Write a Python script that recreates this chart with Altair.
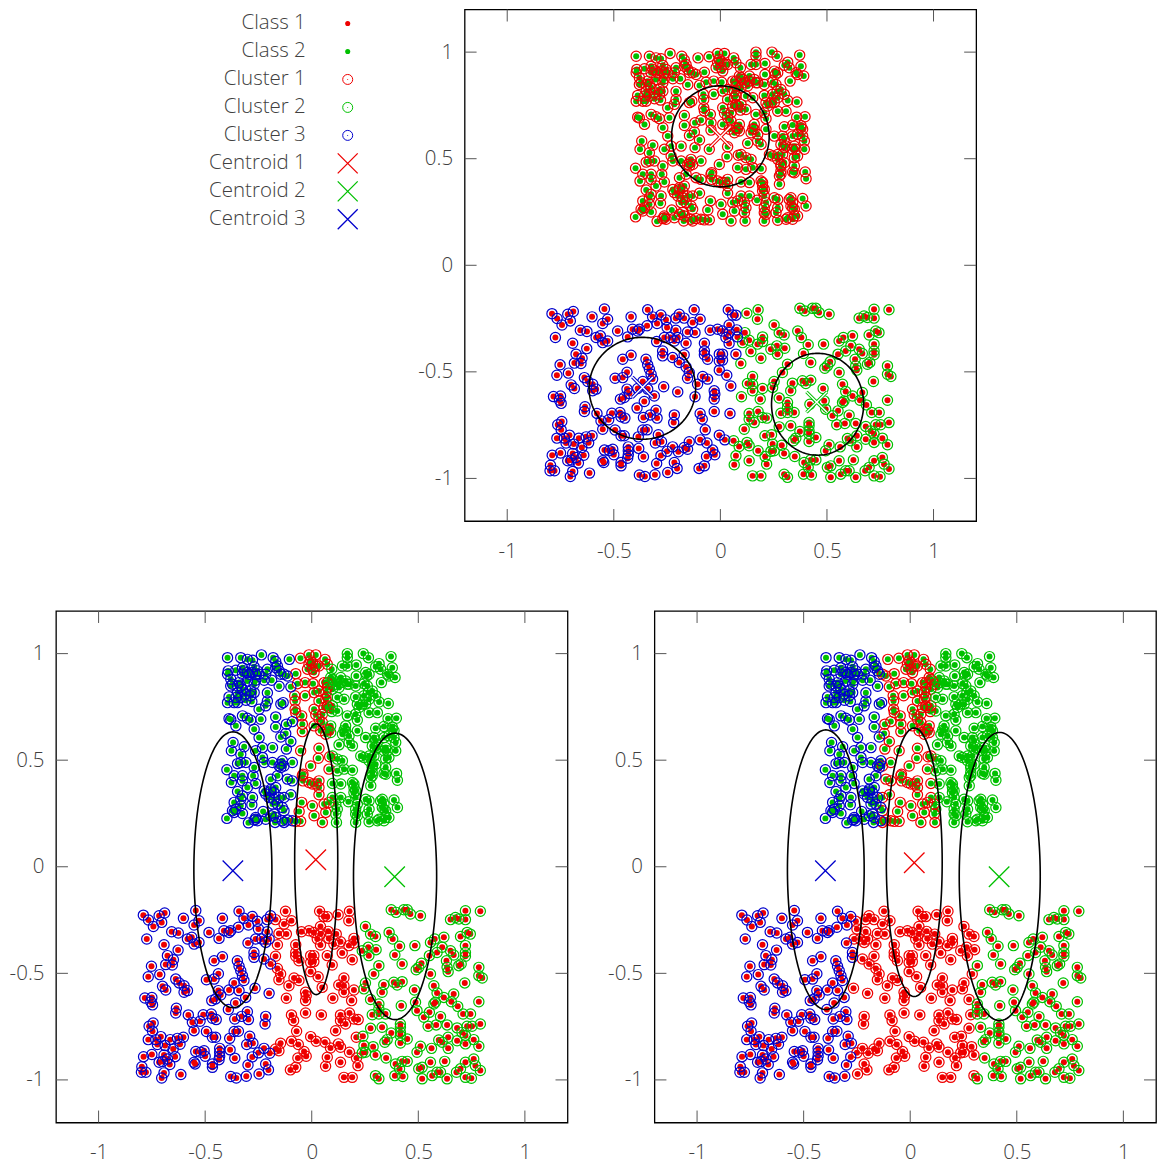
import math
import altair as alt
import pandas as pd

alt.data_transformers.disable_max_rows()

upper_x = [
 -.395,-.333,-.302,-.278,-.236,-.181,-.169,-.105,-.053,-.013,.019,.0625,.167,.167,.242,.266,.372,
 -.392,-.395,-.356,-.325,-.325,-.302,-.270,-.255,-.263,-.208,-.216,-.161,-.153,-.130,-.114,-.075,-.013,.003,.003,.034,.073,.094,.144,.167,.209,.209,.253,.269,.300,.316,.323,.378,.355,.391,.362,
 -.380,-.380,-.341,-.333,-.325,-.302,-.263,-.223,-.188,-.153,-.098,-.067,-.031,.006,.058,.089,.105,.113,.136,.175,.206,.245,.258,.327,.073,
 -.388,-.395,-.356,-.348,-.309,-.286,-.281,-.270,-.208,-.208,-.216,-.145,-.134,-.078,-.080,-.031,.011,.034,.073,.066,.097,.120,.206,.214,.238,.266,.269,.253,.316,.359,.300,
 -.247,-.388,-.380,-.356,-.325,-.302,-.286,-.270,-.239,-.169,-.169,-.091,-.119,-.078,-.075,-.047,.011,.019,.034,.050,.094,.081,.120,.167,.206,.214,.269,.308,.358,.397,.300,.339,.378,.386,.159,.089,-.044,.011,
 .152,.175,.214,.081,.066,.042,-.044,-.122,-.145,-.247,-.369,-.377,-.317,-.263,-.231,-.184,-.098,-.119,-.052,.034,.128,.175,.191,.253,.292,.284,.300,.339,.386,.355,.394,.394,.245,.269,
 -.333,-.333,-.348,-.309,-.270,-.231,-.223,-.184,-.145,-.130,-.091,-.005,.031,.084,.097,.120,.081,.120,.152,.191,.144,.347,.347,.339,.284,.284,.300,-.398,-.145,
 -.364,-.377,-.325,-.325,-.275,-.263,-.302,-.192,-.161,-.114,-.091,-.041,-.041,.003,.034,.097,.136,.191,.198,.277,.284,.347,.398,.402,
 -.348,-.333,-.364,-.278,-.281,-.223,-.192,-.177,-.200,-.177,-.153,-.130,-.098,.034,.097,.136,.198,.206,-.047,.003,.058,.081,.172,.253,.269,.331,.339,.386,.402,.269,
 -.364,-.325,-.398,-.297,-.263,-.228,-.216,-.177,-.172,-.130,-.138,-.091,-.052,-.059,.011,.050,.066,.113,.116,.206,.214,.206,.269,.261,.308,.347,.362,.339,
]
upper_y = [
 .981,.981,.973,.969,.994,.981,.963,.973,.978,.994,.994,.973,1.0,.981,1.0,.981,.986,
 .919,.903,.922,.934,.903,.911,.938,.919,.903,.927,.903,.942,.919,.903,.895,.906,.95,.958,.927,.942,.95,.927,.942,.942,.947,.895,.911,.903,.938,.953,.927,.934,.903,.888,.895,
 .880,.848,.864,.848,.833,.872,.875,.875,.875,.847,.844,.859,.864,.859,.864,.888,.872,.856,.864,.856,.848,.859,.895,.864,.841,
 .797,.770,.794,.770,.781,.802,.775,.817,.816,.778,.755,.763,.770,.778,.802,.802,.817,.825,.797,.817,.755,.794,.797,.763,.763,.817,.786,.763,.773,.766,.802,
 .739,.695,.691,.661,.708,.697,.688,.645,.692,.703,.656,.681,.669,.739,.723,.708,.739,.713,.692,.677,.728,.747,.731,.708,.716,.688,.723,.723,.695,.697,.650,.658,.656,.638,.661,.661,.669,.661,
 .641,.614,.638,.641,.622,.638,.634,.625,.609,.606,.583,.544,.563,.544,.559,.559,.588,.552,.544,.556,.572,.583,.567,.606,.606,.567,.552,.606,.606,.544,.544,.583,.513,.520,
 .528,.489,.484,.489,.466,.513,.489,.489,.481,.473,.489,.473,.509,.516,.520,.505,.458,.450,.458,.453,.497,.505,.466,.438,.473,.442,.481,.455,.466,
 .427,.395,.427,.403,.427,.391,.372,.411,.427,.411,.403,.434,.403,.388,.403,.391,.388,.395,.372,.380,.427,.434,.438,.406,
 .353,.317,.302,.325,.291,.356,.356,.348,.325,.317,.325,.325,.338,.338,.325,.325,.348,.325,.302,.286,.294,.302,.305,.317,.309,.317,.294,.313,.278,.270,
 .255,.250,.227,.206,.223,.259,.223,.247,.208,.263,.216,.216,.213,.259,.239,.208,.255,.247,.208,.270,.239,.208,.211,.247,.216,.231,.231,.270,
]
upper_extra = [
 (-.005,.966),(.019,.942),(.011,.911),(-.020,.927),(-.247,.903),(-.278,.911),(-.348,.848),(-.364,.770),(-.333,.794),(-.372,.856),(-.309,.809),(-.348,.817),(-.145,.903),(-.169,.934),(.097,.880),(.073,.864),(.128,.841),(.152,.786),(.034,.778),(.058,.747),(.066,.786),(.222,.747),(.245,.802),(.284,.825),(.261,.848),
 (.159,.638),(.144,.622),(.073,.645),(.089,.630),(-.153,.473),(-.138,.497),(.300,.591),(.308,.559),(.339,.544),(.362,.513),(.347,.559),(.378,.645),(.362,.614),(.284,.466),(.277,.419),(.198,.388),(.206,.356),(.214,.294),(.206,.247),(-.192,.364),(-.169,.372),(-.216,.341),(-.184,.294),(-.161,.294),(-.138,.278),
 (-.263,.231),(-.255,.216),(-.270,.219),(-.192,.239),(-.169,.231),(.113,.294),(.120,.270),(.034,.372),(.019,.388),(-.013,.395),(-.130,.208),(-.114,.219),(-.075,.213),(.323,.309),(.331,.278),(.347,.263),(.339,.216),(.316,.223),(-.356,.270),(-.372,.263),(-.333,.286),(-.325,.333),
 (-.294,.903),(-.317,.919),(-.270,.856),(-.286,.825),(.167,.856),(.136,.888),(.159,.872),(.097,.833),(.073,.755),(.050,.716),(-.044,.427),(.269,.497),(.230,.520),(.292,.520),
]
lower_left = [
 (-.790,-.227),(-.766,-.250),(-.743,-.280),(-.716,-.230),(-.704,-.261),(-.690,-.217),(-.602,-.242),(-.544,-.205),(-.529,-.253),(-.552,-.273),(-.419,-.242),(-.341,-.209),(-.318,-.242),(-.279,-.233),(-.297,-.273),(-.255,-.256),(-.250,-.292),(-.344,-.284),(-.209,-.248),(-.193,-.230),(-.170,-.248),(-.123,-.209),(-.130,-.269),(-.095,-.253),(-.119,-.316),(-.048,-.305),(-.013,-.300),
 (-.657,-.305),(-.626,-.311),(-.774,-.339),(-.693,-.366),(-.583,-.339),(-.563,-.331),(-.552,-.363),(-.529,-.355),(-.482,-.308),(-.435,-.336),(-.412,-.300),(-.380,-.300),(-.388,-.308),(-.263,-.339),(-.235,-.339),(-.209,-.305),(-.200,-.339),(-.216,-.355),(-.161,-.366),(-.299,-.358),(-.154,-.313),(-.075,-.366),
 (-.627,-.391),(-.677,-.417),(-.649,-.436),(-.654,-.461),(-.685,-.459),(-.458,-.441),(-.419,-.422),(-.349,-.441),(-.341,-.467),(-.271,-.402),(-.271,-.425),(-.224,-.433),(-.193,-.456),(-.170,-.420),(-.075,-.402),(-.075,-.420),(-.060,-.441),(-.005,-.417),(-.005,-.449),
 (-.752,-.467),(-.767,-.516),(-.713,-.506),(-.638,-.527),(-.622,-.545),(-.438,-.502),(-.458,-.527),(-.494,-.530),(-.333,-.488),(-.318,-.534),(-.325,-.511),(-.161,-.477),(-.146,-.503),(-.154,-.530),(-.083,-.522),(-.060,-.534),(-.005,-.492),(-.107,-.558),
 (-.700,-.561),(-.685,-.578),(-.599,-.558),(-.583,-.581),(-.599,-.589),(-.783,-.616),(-.750,-.613),(-.755,-.633),(-.747,-.648),(-.266,-.570),(-.200,-.594),(-.119,-.617),(-.029,-.589),(-.026,-.605),(-.029,-.628),(-.438,-.581),(-.427,-.602),(-.451,-.620),(-.469,-.628),(-.388,-.578),(-.341,-.581),(-.310,-.613),(-.364,-.545),
 (-.635,-.664),(-.638,-.686),(-.579,-.695),(-.509,-.694),(-.471,-.691),(-.466,-.711),(-.448,-.717),(-.524,-.725),(-.560,-.730),(-.391,-.670),(-.357,-.639),(-.361,-.714),(-.329,-.702),(-.302,-.680),(-.297,-.717),(-.216,-.702),(-.219,-.738),(-.095,-.695),(-.085,-.722),(-.029,-.686),
 (-.744,-.733),(-.763,-.748),(-.747,-.772),(-.708,-.797),(-.767,-.811),(-.732,-.811),(-.664,-.811),(-.630,-.805),(-.602,-.800),(-.618,-.833),(-.552,-.769),(-.494,-.773),(-.466,-.800),(-.451,-.800),(-.385,-.805),(-.364,-.773),(-.344,-.772),(-.291,-.795),(-.305,-.834),(-.276,-.828),(-.146,-.828),(-.071,-.772),(-.095,-.819),(-.063,-.834),(-.005,-.797),
 (-.724,-.834),(-.688,-.839),(-.650,-.855),(-.693,-.883),(-.641,-.891),(-.677,-.902),(-.700,-.914),(-.789,-.891),(-.750,-.881),(-.544,-.867),(-.521,-.870),(-.505,-.863),(-.500,-.889),(-.432,-.852),(-.432,-.870),(-.432,-.889),(-.435,-.905),(-.383,-.859),(-.361,-.898),(-.250,-.873),(-.224,-.852),(-.197,-.875),(-.170,-.855),(-.154,-.863),(-.036,-.867),(-.026,-.889),(-.065,-.897),(-.279,-.892),
 (-.716,-.917),(-.666,-.928),(-.552,-.917),(-.547,-.925),(-.466,-.925),(-.466,-.941),(-.299,-.930),(-.216,-.925),(-.203,-.953),(-.075,-.941),(-.100,-.953),(-.797,-.938),(-.778,-.964),(-.799,-.964),(-.693,-.967),(-.704,-.991),(-.614,-.975),(-.380,-.984),(-.354,-.991),(-.307,-.983),(-.247,-.972),
]
lower_right = [
 (.037,-.209),(.057,-.233),(.073,-.234),(.041,-.280),(.010,-.308),(.041,-.316),(.077,-.303),(.026,-.339),(.080,-.336),(.041,-.367),(.073,-.417),(.010,-.417),(.010,-.445),(.030,-.516),(.049,-.566),(.045,-.695),(.021,-.819),
 (.124,-.225),(.177,-.209),(.174,-.253),(.252,-.280),(.276,-.316),(.299,-.327),(.198,-.336),(.198,-.358),(.174,-.370),(.104,-.363),(.115,-.316),(.135,-.352),(.143,-.405),(.190,-.436),(.096,-.461),(.237,-.394),(.265,-.378),(.302,-.389),(.268,-.417),(.363,-.308),(.380,-.339),(.412,-.373),(.484,-.370),(.390,-.414),(.424,-.456),(.315,-.464),(.291,-.503),
 (.373,-.202),(.396,-.214),(.432,-.202),(.448,-.202),(.463,-.222),(.510,-.230),(.651,-.248),(.674,-.238),(.690,-.245),(.721,-.206),(.791,-.209),(.721,-.248),(.698,-.327),(.744,-.316),(.729,-.308),(.620,-.331),(.577,-.339),(.557,-.355),(.612,-.378),(.588,-.402),(.552,-.417),(.651,-.394),(.666,-.414),(.632,-.441),(.635,-.472),(.640,-.492),(.721,-.370),(.721,-.402),(.721,-.420),(.701,-.456),(.690,-.464),(.784,-.472),(.784,-.511),(.800,-.522),(.718,-.545),(.557,-.503),(.515,-.453),(.502,-.472),(.490,-.483),
 (.151,-.522),(.127,-.555),(.151,-.558),(.151,-.589),(.198,-.578),(.099,-.617),(.187,-.628),(.252,-.545),(.245,-.573),(.338,-.553),(.330,-.589),(.385,-.542),(.401,-.555),(.424,-.539),(.482,-.578),(.573,-.558),(.588,-.592),(.620,-.613),(.666,-.597),(.580,-.636),(.573,-.644),(.655,-.633),(.784,-.633),(.685,-.655),(.710,-.691),(.745,-.691),
 (.276,-.623),(.315,-.644),(.315,-.667),(.315,-.691),(.346,-.691),(.284,-.694),(.552,-.683),(.526,-.706),(.604,-.703),(.420,-.652),(.487,-.636),(.494,-.675),(.135,-.695),(.177,-.686),(.135,-.722),(.159,-.738),(.198,-.714),(.218,-.717),(.112,-.769),(.276,-.758),(.330,-.753),(.416,-.738),(.416,-.753),(.416,-.777),(.416,-.792),(.373,-.780),(.354,-.811),(.343,-.823),(.448,-.808),(.416,-.827),(.209,-.800),(.240,-.795),
 (.546,-.748),(.584,-.742),(.635,-.742),(.682,-.756),(.729,-.748),(.752,-.748),(.791,-.738),(.705,-.777),(.721,-.792),(.760,-.811),(.784,-.842),(.721,-.831),(.682,-.816),(.596,-.813),(.612,-.823),(.640,-.800),(.640,-.852),(.562,-.852),(.510,-.842),(.494,-.870),
 (.448,-.913),(.424,-.913),(.393,-.925),(.412,-.948),(.390,-.980),(.427,-.984),(.502,-.948),(.518,-.941),(.518,-.995),(.557,-.917),(.624,-.913),(.565,-.980),(.588,-.964),(.604,-.964),(.635,-.995),(.679,-.964),(.698,-.948),(.721,-.917),(.760,-.902),(.768,-.933),(.791,-.956),(.721,-.988),(.749,-.992),
 (.062,-.823),(.088,-.850),(.125,-.831),(.135,-.847),(.177,-.870),(.245,-.839),(.252,-.870),(.237,-.873),(.288,-.844),(.299,-.883),(.349,-.897),(.210,-.897),(.135,-.917),(.073,-.894),(.065,-.936),(.217,-.933),(.151,-.988),(.190,-.988),(.299,-.980),(.315,-.995),
]

tick_values = [-1, -0.5, 0, 0.5, 1]

RED, GREEN, BLUE = "#ee0000", "#00c000", "#0000cc"
INK = "#404040"
FONT = "Open Sans"
FSIZE = 20.5

# cluster boundaries per panel: x position of each split, per half
panel2_cuts = {"upper": (-.09, .085), "lower": (-.185, .23)}
panel3_cuts = {"upper": (-.13, .12), "lower": (-.27, .315)}

# ellipses: centre x, centre y, radius x, radius y, per panel (cluster 1, 2, 3)
ell_cx = [[0.0, .456, -.366], [.021, .391, -.370], [.019, .420, -.396]]
ell_cy = [[.605, -.652, -.577], [.035, -.045, -.014], [.021, -.046, -.014]]
ell_rx = [[.229, .216, .250], [.101, .195, .183], [.131, .190, .180]]
ell_ry = [[.237, .239, .239], [.635, .672, .647], [.630, .676, .656]]

# centroids per panel
cen_x = [[0.0, .452, -.365], [.019, .389, -.370], [.019, .417, -.398]]
cen_y = [[.603, -.642, -.572], [.033, -.047, -.019], [.019, -.047, -.019]]
cen_colors = [RED, GREEN, BLUE]

legend_labels = ["Class 1", "Class 2", "Cluster 1", "Cluster 2", "Cluster 3",
                 "Centroid 1", "Centroid 2", "Centroid 3"]
legend_colors = [RED, GREEN, RED, GREEN, BLUE, RED, GREEN, BLUE]

all_upper_x = upper_x + [p[0] for p in upper_extra]
all_upper_y = upper_y + [p[1] for p in upper_extra]
lower_x = [p[0] for p in lower_left + lower_right]
lower_y = [p[1] for p in lower_left + lower_right]

CROSS = "M-1,-1L1,1M-1,1L1,-1"
dom = [-1.2, 1.2]
SIDE = 512
EXT_Y = 47
EXT_X = 50
TICK = 12
PX_PER_UNIT = SIDE / 2.4


def assign_panel1(x, y, upper):
    if upper:
        return RED
    return BLUE if x < .09 + .08 * (y + .4) else GREEN


def assign_cuts(cuts):
    def f(x, y, upper):
        a, b = cuts["upper" if upper else "lower"]
        return BLUE if x < a else (RED if x < b else GREEN)
    return f


def panel(idx, assign, w=SIDE):
    rows = []
    for x, y in zip(all_upper_x, all_upper_y):
        rows.append({"x": x, "y": y, "cls": GREEN, "ring": assign(x, y, True)})
    for x, y in zip(lower_x, lower_y):
        rows.append({"x": x, "y": y, "cls": RED, "ring": assign(x, y, False)})
    df = pd.DataFrame(rows)

    x_dom = [dom[0], dom[0] + w / PX_PER_UNIT]
    X = alt.X("x:Q", scale=alt.Scale(domain=x_dom, nice=False), title=None,
              axis=alt.Axis(values=tick_values, labelExpr="'' + datum.value", grid=False,
                            domain=False, ticks=False, labelPadding=20,
                            minExtent=EXT_X, maxExtent=EXT_X, labelFont=FONT, labelFontSize=FSIZE,
                            labelFontWeight=300, labelColor=INK))
    Y = alt.Y("y:Q", scale=alt.Scale(domain=dom, nice=False), title=None,
              axis=alt.Axis(values=tick_values, labelExpr="'' + datum.value", grid=False,
                            domain=False, ticks=False, labelPadding=12,
                            minExtent=EXT_Y, maxExtent=EXT_Y, labelFont=FONT, labelFontSize=FSIZE,
                            labelFontWeight=300, labelColor=INK))
    ticks = pd.DataFrame({"x": tick_values, "y": tick_values})
    tick_color = "#555555"
    layers = []
    # mirrored inward ticks
    for y1, y2 in [(SIDE, SIDE - TICK), (0, TICK)]:
        layers.append(alt.Chart(ticks).mark_rule(color=tick_color, strokeWidth=1).encode(
            x=X, y=alt.value(y1), y2=alt.value(y2)))
    for x1, x2 in [(0, TICK), (w, w - TICK)]:
        layers.append(alt.Chart(ticks).mark_rule(color=tick_color, strokeWidth=1).encode(
            y=Y, x=alt.value(x1), x2=alt.value(x2)))
    # class dots, then cluster rings
    for dot_color in (RED, GREEN):
        layers.append(alt.Chart(df[df["cls"] == dot_color]).mark_point(
            shape="circle", filled=True, size=36, color=dot_color, opacity=1).encode(x=X, y=Y))
    for ring_color in (RED, GREEN, BLUE):
        sub = df[df["ring"] == ring_color]
        if len(sub):
            layers.append(alt.Chart(sub).mark_point(
                shape="circle", filled=False, size=105, color=ring_color, strokeWidth=1.2,
                opacity=1).encode(x=X, y=Y))
    # centroids
    for k, c in enumerate(cen_colors):
        d = pd.DataFrame({"x": [cen_x[idx][k]], "y": [cen_y[idx][k]]})
        if idx == 0:
            layers.append(alt.Chart(d).mark_point(shape=CROSS, filled=False, size=420, color=c,
                                                  strokeWidth=3.4, opacity=1).encode(x=X, y=Y))
            layers.append(alt.Chart(d).mark_point(shape=CROSS, filled=False, size=420, color="white",
                                                  strokeWidth=1.4, opacity=1).encode(x=X, y=Y))
        else:
            layers.append(alt.Chart(d).mark_point(shape=CROSS, filled=False, size=420, color=c,
                                                  strokeWidth=1.3, opacity=1).encode(x=X, y=Y))
    # ellipses
    for k in range(3):
        pts = []
        for i in range(181):
            t = 2 * math.pi * i / 180
            pts.append({"x": ell_cx[idx][k] + ell_rx[idx][k] * math.cos(t),
                        "y": ell_cy[idx][k] + ell_ry[idx][k] * math.sin(t), "i": i})
        layers.append(alt.Chart(pd.DataFrame(pts)).mark_line(color="black", strokeWidth=1.6).encode(
            x=X, y=Y, order="i:Q"))
    return alt.layer(*layers).properties(
        width=w, height=SIDE,
        view=alt.ViewBackground(stroke="black", strokeWidth=1.3, fill="white"))


legend_df = pd.DataFrame({"label": legend_labels, "row": list(range(8)), "c": legend_colors})
LY = alt.Y("row:Q", axis=None, scale=alt.Scale(domain=[0, 7], range=[14, 210]))
C = alt.Color("c:N", scale=None)
legend = alt.layer(
    alt.Chart(legend_df).mark_text(align="right", baseline="middle", font=FONT, fontSize=FSIZE,
                                   fontWeight=300, color=INK).encode(
        y=LY, x=alt.value(250), text="label:N"),
    alt.Chart(legend_df[legend_df.row < 2]).mark_point(shape="circle", filled=True, size=26, opacity=1).encode(
        y=LY, x=alt.value(292), color=C),
    alt.Chart(legend_df[(legend_df.row >= 2) & (legend_df.row < 5)]).mark_point(
        shape="circle", filled=False, size=100, strokeWidth=1, opacity=1).encode(
        y=LY, x=alt.value(292), color=C),
    alt.Chart(legend_df[(legend_df.row >= 2) & (legend_df.row < 5)]).mark_point(
        shape="circle", filled=True, size=1, opacity=1).encode(
        y=LY, x=alt.value(292), color=C),
    alt.Chart(legend_df[legend_df.row >= 5]).mark_point(
        shape=CROSS, filled=False, size=400, strokeWidth=1.3, opacity=1).encode(
        y=LY, x=alt.value(292), color=C),
).properties(width=353, height=SIDE, view=alt.ViewBackground(stroke=None))

p1 = panel(0, assign_panel1)
p2 = panel(1, assign_cuts(panel2_cuts))
p3 = panel(2, assign_cuts(panel3_cuts), w=502)

top = alt.hconcat(legend, p1, spacing=8)
bottom = alt.hconcat(p2, p3, spacing=37)
chart = alt.vconcat(top, bottom, spacing=37).properties(
    padding={"left": 0, "top": -1, "right": 0, "bottom": 0},
    background="white",
)
chart.save("out.html", embed_options={"renderer": "svg", "actions": False})
